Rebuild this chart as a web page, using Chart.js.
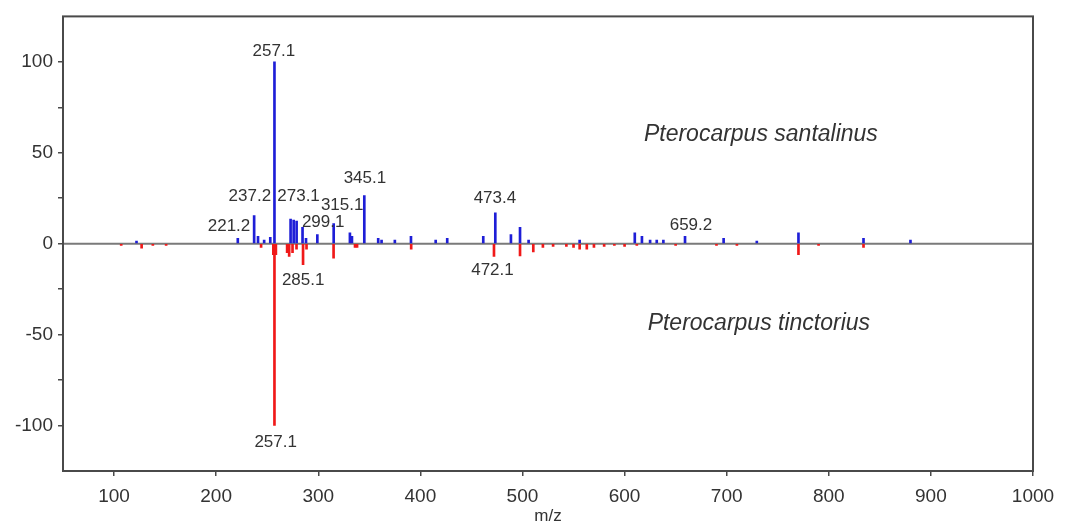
<!DOCTYPE html>
<html>
<head>
<meta charset="utf-8">
<script src="https://cdn.jsdelivr.net/npm/chart.js@4/dist/chart.umd.min.js"></script>
<style>
  html, body { margin: 0; padding: 0; background: #fff; }
  #wrap { width: 1067px; height: 527px; position: relative; }
</style>
</head>
<body>
<div id="wrap"><canvas id="msChart"></canvas></div>
<script>
// Pterocarpus santalinus (up, blue)
const santalinusMz = [122, 221.2, 237.2, 241, 247, 253, 257.1, 272.9, 275.9, 278.8, 284.6, 288, 299.1, 315.1, 331, 333, 345.1, 358.7, 362, 375, 390.8, 415, 426.3, 461.6, 473.4, 488.7, 497.6, 506, 556, 610, 617, 625, 631.5, 638, 659.2, 697, 729.5, 770.3, 834, 880];
const santalinusInt = [1.5, 3, 15.5, 4, 2, 3.5, 100, 13.5, 13, 12.5, 9, 3, 5, 11, 6, 4, 26.5, 3, 2, 2, 4, 2, 3, 4, 17, 5, 9, 2, 2, 6, 4, 2, 2, 2, 4, 3, 1.5, 6, 3, 2];

// Pterocarpus tinctorius (down, red)
const tinctoriusMz = [107, 127, 138, 151, 244, 256, 257.1, 258.5, 269.5, 271.5, 274.8, 278.7, 285.1, 288.5, 315, 336, 338, 391, 472.1, 497.6, 510.6, 520, 530, 543, 550, 556, 563, 570, 580, 590, 600, 612, 650, 690, 710, 770.3, 790, 834];
const tinctoriusInt = [-1, -2.5, -1, -1, -2, -6, -100, -6, -5, -7, -5, -3, -11.5, -3, -8, -2, -2, -3, -7, -6.7, -4.5, -2, -1.5, -1.5, -2, -3, -3, -2, -1.5, -1, -1.5, -1, -1, -1, -1, -6, -1, -2];

// peak annotations: text, m/z and intensity where the text sits
const labelText = ['257.1', '221.2', '237.2', '273.1', '299.1', '315.1', '345.1', '473.4', '659.2', '285.1', '472.1', '257.1'];
const labelMz = [256.5, 212.6, 233, 280.7, 304.8, 323.4, 345.7, 473, 665, 285.2, 470.6, 258.3];
const labelInt = [106, 9.8, 25.8, 25.8, 11.6, 20.9, 35.7, 24.8, 10.3, -20.4, -14.5, -109.2];

const speciesText = ['Pterocarpus santalinus', 'Pterocarpus tinctorius'];
const speciesMz = [733.5, 731.5];
const speciesInt = [60, -44.2];

const xTickValues = [100, 200, 300, 400, 500, 600, 700, 800, 900, 1000];
const yTickValues = [-100, -75, -50, -25, 0, 25, 50, 75, 100];

const FONT = "'Liberation Sans', Arial, sans-serif";

const toPoints = (mz, ints) => mz.map((x, i) => ({ x: x, y: ints[i] }));

// frame, zero line and text annotations
const spectrumExtras = {
  id: 'spectrumExtras',
  beforeDatasetsDraw(chart) {
    const { ctx, chartArea, scales } = chart;
    const y0 = scales.y.getPixelForValue(0);
    ctx.save();
    ctx.strokeStyle = '#7a7a7a';
    ctx.lineWidth = 2;
    ctx.beginPath();
    ctx.moveTo(chartArea.left, y0);
    ctx.lineTo(chartArea.right, y0);
    ctx.stroke();
    ctx.restore();
  },
  afterDraw(chart) {
    const { ctx, chartArea, scales } = chart;
    ctx.save();
    ctx.strokeStyle = '#4a4a4a';
    ctx.lineWidth = 2;
    ctx.strokeRect(chartArea.left, chartArea.top, chartArea.right - chartArea.left, chartArea.bottom - chartArea.top);

    ctx.fillStyle = '#333';
    ctx.textAlign = 'center';
    ctx.textBaseline = 'middle';
    ctx.font = '17px ' + FONT;
    labelText.forEach((t, i) => {
      ctx.fillText(t, scales.x.getPixelForValue(labelMz[i]), scales.y.getPixelForValue(labelInt[i]));
    });
    ctx.font = 'italic 23px ' + FONT;
    speciesText.forEach((t, i) => {
      ctx.fillText(t, scales.x.getPixelForValue(speciesMz[i]), scales.y.getPixelForValue(speciesInt[i]));
    });
    ctx.restore();
  }
};

new Chart(document.getElementById('msChart'), {
  type: 'bar',
  data: {
    datasets: [
      {
        label: 'Pterocarpus santalinus',
        data: toPoints(santalinusMz, santalinusInt),
        backgroundColor: 'rgb(30, 30, 215)',
        barThickness: 2,
        grouped: false,
      },
      {
        label: 'Pterocarpus tinctorius',
        data: toPoints(tinctoriusMz, tinctoriusInt),
        backgroundColor: 'rgb(240, 25, 25)',
        barThickness: 2,
        grouped: false,
      },
    ],
  },
  options: {
    responsive: true,
    maintainAspectRatio: false,
    animation: false,
    layout: { padding: { top: 12, right: 34, left: 0, bottom: 0 } },
    scales: {
      x: {
        type: 'linear',
        min: 50,
        max: 1000,
        offset: false,
        border: { display: false },
        grid: { offset: false, drawOnChartArea: false, drawTicks: true, tickLength: 5, color: '#4a4a4a', lineWidth: 1.5 },
        afterBuildTicks(scale) { scale.ticks = xTickValues.map(v => ({ value: v })); },
        ticks: { padding: 9, color: '#333', font: { family: FONT, size: 19 }, callback: (v) => String(v) },
        title: { display: true, text: 'm/z', color: '#333', padding: 0, font: { family: FONT, size: 17 } },
        afterFit(scale) { scale.height = 56; },
      },
      y: {
        min: -125,
        max: 125,
        border: { display: false },
        grid: { offset: false, drawOnChartArea: false, drawTicks: true, tickLength: 5, color: '#4a4a4a', lineWidth: 1.5 },
        afterBuildTicks(scale) { scale.ticks = yTickValues.map(v => ({ value: v })); },
        ticks: {
          padding: 5,
          color: '#333',
          font: { family: FONT, size: 19 },
          callback: (v) => (v % 50 === 0 ? String(v) : ''),
        },
        afterFit(scale) { scale.width = 63; },
      },
    },
    plugins: {
      legend: { display: false },
      tooltip: { enabled: false },
    },
  },
  plugins: [spectrumExtras],
});
</script>
</body>
</html>
